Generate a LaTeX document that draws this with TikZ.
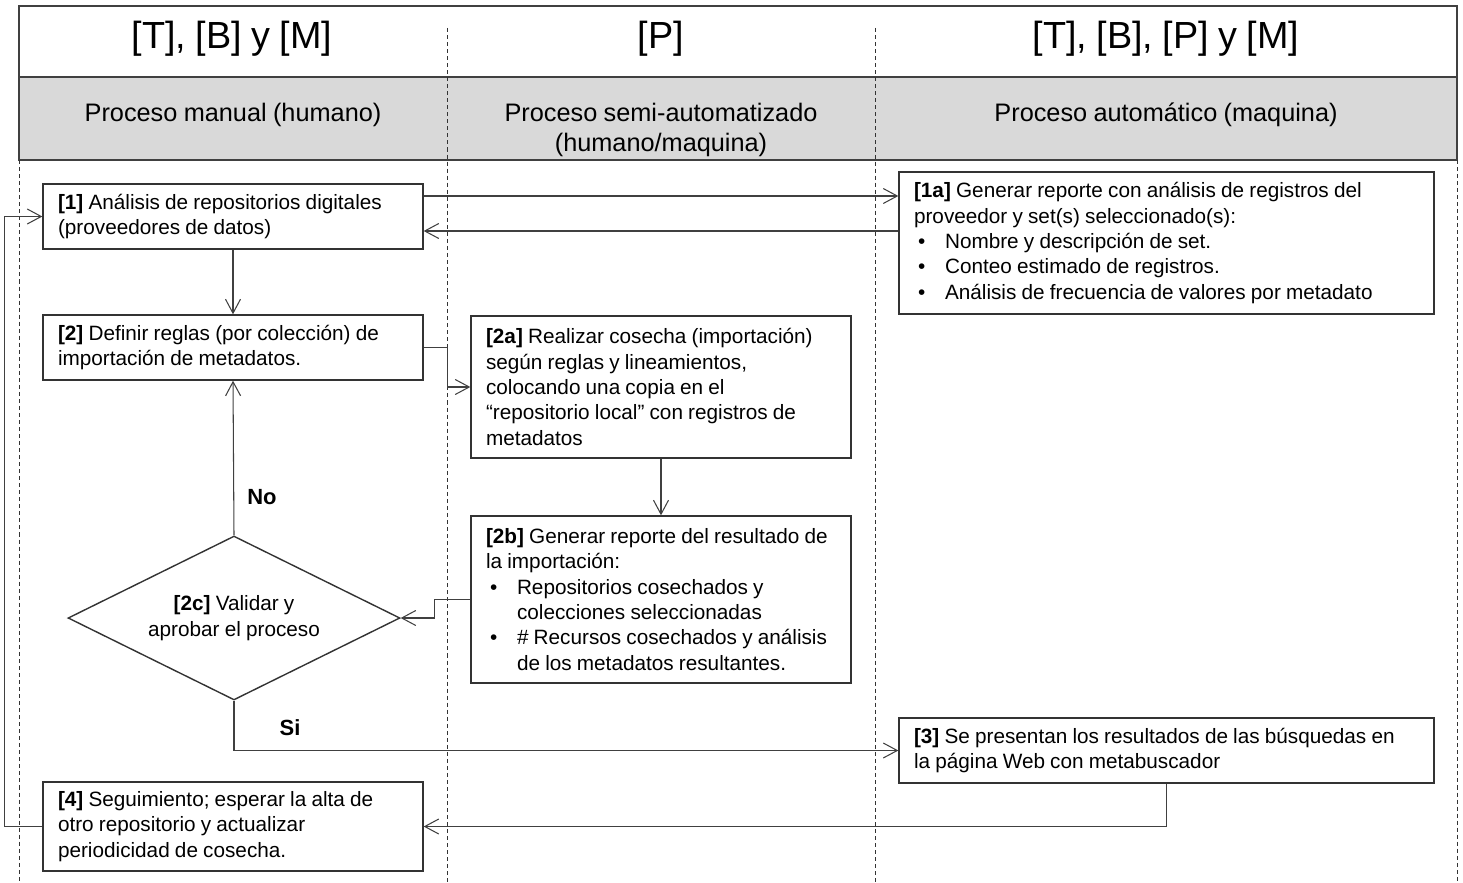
\documentclass[tikz,border=0pt]{standalone}
\usepackage{fontspec}
\setmainfont[WordSpace=0.9]{Liberation Sans}
\usepackage{tikz}
\usetikzlibrary{arrows.meta,positioning}
\usetikzlibrary{shapes.geometric}
\newcommand{\boxfont}{\fontsize{11.8pt}{14.4pt}\selectfont}
\newcommand{\bul}{\\\makebox[0.62cm][l]{\hspace{0.08cm}\textbullet}}
\newcommand{\cont}{\\\hspace*{0.62cm}}
\tikzstyle{proc}=[rectangle, draw=black!80, line width=0.8pt, fill=white,
align=flush left, text width=7cm, inner xsep=0.3cm, font=\boxfont]
\tikzstyle{wide}=[proc, text width=10.1cm]
\tikzstyle{check}=[diamond, draw=black!80, line width=0.8pt, aspect=2,
inner sep=0pt, minimum width=6.64cm, minimum height=3.28cm,
align=flush center, font=\boxfont]
\tikzstyle{flow}=[line width=0.6pt, draw=black!75, ->,
>={Straight Barb[length=2.8mm,width=3mm]}]
\tikzstyle{lane}=[line width=0.5pt, black!80, dash pattern=on 2.3pt off 1.7pt]
\tikzstyle{top}=[font=\fontsize{21.5pt}{25pt}\selectfont]
\tikzstyle{sub}=[anchor=north, align=center, inner sep=0pt,
font=\fontsize{14.4pt}{17pt}\selectfont]
\tikzstyle{lbl}=[font=\fontsize{12.5pt}{15pt}\selectfont\bfseries]

\begin{document}
\begin{tikzpicture}[x=0.02cm,y=-0.02cm]
\useasboundingbox (0,0) rectangle (1463,882);
% header
\draw[line width=0.8pt, black!75] (19,6) rectangle (1457,77);
\filldraw[line width=0.8pt, draw=black!75, fill=black!15] (19,77) rectangle (1457,160);
\foreach \x in {447,875} \draw[lane] (\x,28) -- (\x,882);
\foreach \x in {19,1457} \draw[lane] (\x,160) -- (\x,882);
\node[top] (h1) at (232,39) {[T], [B] y [M]};
\node[top] (h2) at (661,39) {[P]};
\node[top] (h3) at (1166,39) {[T], [B], [P] y [M]};
\node[sub] (s1) at (233,103) {Proceso manual (humano)};
\node[sub] (s2) at (661,103) {Proceso semi-automatizado\\(humano/maquina)};
\node[sub] (s3) at (1166,103) {Proceso automático (maquina)};
% steps
\node[proc, minimum height=1.3cm] (p1) at (233,216.5)
{\textbf{[1]} Análisis de repositorios digitales\\(proveedores de datos)};
\node[wide, minimum height=2.84cm] (p1a) at (1166.5,243)
{\textbf{[1a]} Generar reporte con análisis de registros del\\proveedor y set(s) seleccionado(s):%
\bul Nombre y descripción de set.%
\bul Conteo estimado de registros.%
\bul Análisis de frecuencia de valores por metadato};
\node[proc, minimum height=1.3cm] (p2) at (233,347.5)
{\textbf{[2]} Definir reglas (por colección) de\\importación de metadatos.};
\node[proc, minimum height=2.84cm] (p2a) at (661,387)
{\textbf{[2a]} Realizar cosecha (importación)\\según reglas y lineamientos,\\colocando una copia en el\\“repositorio local” con registros de\\metadatos};
\node[proc, minimum height=3.34cm] (p2b) at (661,599.5)
{\textbf{[2b]} Generar reporte del resultado de\\la importación:%
\bul Repositorios cosechados y\cont colecciones seleccionadas%
\bul \# Recursos cosechados y análisis\cont de los metadatos resultantes.};
\node[check] (p2c) at (234,618) {\textbf{[2c]} Validar y\\aprobar el proceso};
\node[wide, minimum height=1.3cm] (p3) at (1166.5,750.5)
{\textbf{[3]} Se presentan los resultados de las búsquedas en\\la página Web con metabuscador};
\node[proc, minimum height=1.78cm] (p4) at (233,826.5)
{\textbf{[4]} Seguimiento; esperar la alta de\\otro repositorio y actualizar\\periodicidad de cosecha.};
\node[lbl] (no) at (262,497) {No};
\node[lbl] (si) at (290,728) {Si};
% connectors
\draw[flow] (p1.east |- 0,196) -- (p1a.west |- 0,196);
\draw[flow] (p1a.west |- 0,231) -- (p1.east |- 0,231);
\draw[flow] (p1) -- (p2);
\draw[flow] (p2.east) -- ++(24,0) |- (p2a.west);
\draw[flow] (p2a) -- (p2b);
\draw[flow] (p2b.west) -- ++(-36,0) |- (p2c.east);
\draw[flow] (p2c.north) -- (p2.south);
\draw[flow] (p2c.south) |- (p3.west);
\draw[flow] (p3.south) |- (p4.east);
\draw[flow] (p4.west) -- ++(-38,0) |- (p1.west);
\end{tikzpicture}
\end{document}
